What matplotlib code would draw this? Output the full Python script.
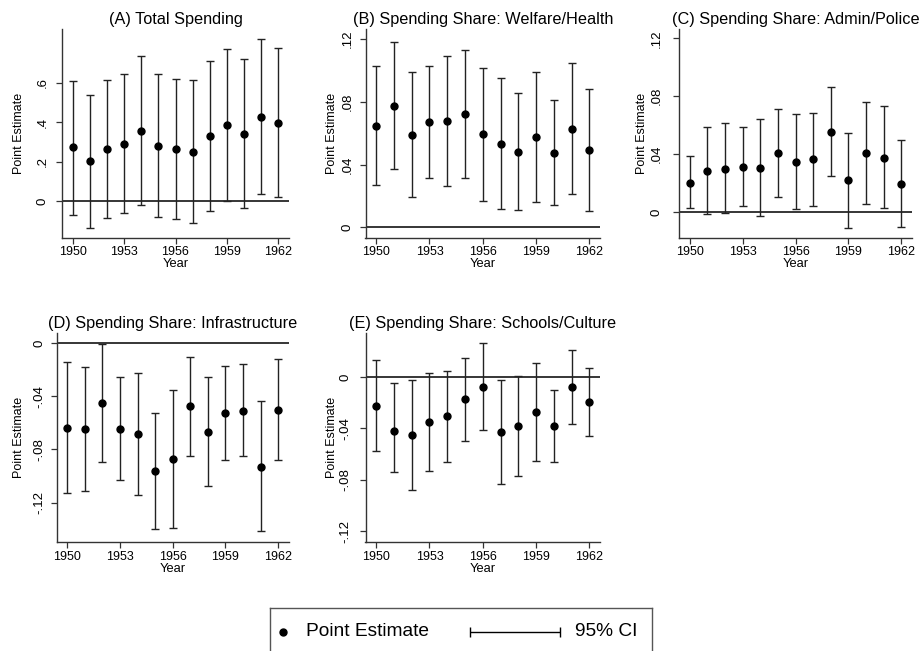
# Event-study style coefficient plots (5 panels) with 95% CI
import matplotlib.pyplot as plt

plt.rcParams['font.family'] = ['Liberation Sans', 'DejaVu Sans']

years = [1950, 1951, 1952, 1953, 1954, 1955, 1956, 1957, 1958, 1959, 1960, 1961, 1962]
xticks = [1950, 1953, 1956, 1959, 1962]

# (A) Total Spending
a_est = [0.273, 0.202, 0.265, 0.292, 0.356, 0.281, 0.266, 0.251, 0.330, 0.386, 0.340, 0.425, 0.396]
a_lo = [-0.067, -0.133, -0.084, -0.059, -0.019, -0.079, -0.089, -0.111, -0.047, 0.002, -0.035, 0.035, 0.020]
a_hi = [0.610, 0.539, 0.612, 0.642, 0.733, 0.646, 0.620, 0.614, 0.711, 0.772, 0.718, 0.821, 0.774]

# (B) Welfare/Health
b_est = [0.0648, 0.0775, 0.0590, 0.0671, 0.0678, 0.0722, 0.0595, 0.0533, 0.0482, 0.0573, 0.0476, 0.0624, 0.0491]
b_lo = [0.0268, 0.0370, 0.0191, 0.0316, 0.0266, 0.0316, 0.0166, 0.0115, 0.0110, 0.0159, 0.0144, 0.0212, 0.0102]
b_hi = [0.1028, 0.1183, 0.0992, 0.1030, 0.1092, 0.1130, 0.1017, 0.0949, 0.0856, 0.0990, 0.0814, 0.1045, 0.0879]

# (C) Admin/Police
c_est = [0.0205, 0.0284, 0.0302, 0.0314, 0.0307, 0.0411, 0.0348, 0.0365, 0.0556, 0.0222, 0.0406, 0.0378, 0.0198]
c_lo = [0.0028, -0.0014, -0.0002, 0.0042, -0.0025, 0.0106, 0.0025, 0.0046, 0.0252, -0.0106, 0.0055, 0.0028, -0.0099]
c_hi = [0.0388, 0.0586, 0.0614, 0.0591, 0.0644, 0.0715, 0.0676, 0.0688, 0.0865, 0.0547, 0.0759, 0.0732, 0.0498]

# (D) Infrastructure
d_est = [-0.0638, -0.0648, -0.0449, -0.0643, -0.0683, -0.0964, -0.0874, -0.0475, -0.0665, -0.0525, -0.0507, -0.0929, -0.0500]
d_lo = [-0.1127, -0.1112, -0.0896, -0.1032, -0.1142, -0.1401, -0.1388, -0.0851, -0.1072, -0.0881, -0.0851, -0.1416, -0.0876]
d_hi = [-0.0141, -0.0178, -0.0003, -0.0254, -0.0221, -0.0525, -0.0354, -0.0100, -0.0254, -0.0168, -0.0158, -0.0437, -0.0121]

# (E) Schools/Culture
e_est = [-0.0223, -0.0417, -0.0448, -0.0350, -0.0306, -0.0174, -0.0075, -0.0430, -0.0381, -0.0275, -0.0381, -0.0078, -0.0194]
e_lo = [-0.0578, -0.0739, -0.0881, -0.0734, -0.0664, -0.0498, -0.0410, -0.0832, -0.0767, -0.0651, -0.0658, -0.0363, -0.0456]
e_hi = [0.0135, -0.0049, -0.0021, 0.0034, 0.0049, 0.0148, 0.0262, -0.0021, 0.0008, 0.0106, -0.0104, 0.0207, 0.0067]

W, H = 921, 651
fig = plt.figure(figsize=(W / 100, H / 100), dpi=100)


def px_axes(x0, y0, x1, y1):
    # pixel box (top-left origin) -> figure fraction
    return fig.add_axes([x0 / W, 1 - y1 / H, (x1 - x0) / W, (y1 - y0) / H])


def fmt(v):
    # Stata style: .2 instead of 0.2
    s = ('%g' % v)
    return s.replace('0.', '.')


# title, data, yticks, ylim, axes box (px), ytick pad (pt), ylabel x (px)
panels = [
    ('(A) Total Spending', a_est, a_lo, a_hi, [0, 0.2, 0.4, 0.6], (-0.184, 0.870),
     (62.3, 29.3, 288.7, 237.7), 6.0, 18.3),
    ('(B) Spending Share: Welfare/Health', b_est, b_lo, b_hi, [0, 0.04, 0.08, 0.12], (-0.0066, 0.1262),
     (365.5, 29.3, 600, 237.7), 4.6, 331.7),
    ('(C) Spending Share: Admin/Police', c_est, c_lo, c_hi, [0, 0.04, 0.08, 0.12], (-0.0175, 0.1262),
     (679.3, 29.3, 911.7, 237.7), 8.0, 641.7),
    ('(D) Spending Share: Infrastructure', d_est, d_lo, d_hi, [0, -0.04, -0.08, -0.12], (-0.1499, 0.0075),
     (56.7, 333.3, 288.7, 542.3), 3.8, 18.3),
    ('(E) Spending Share: Schools/Culture', e_est, e_lo, e_hi, [0, -0.04, -0.08, -0.12], (-0.1286, 0.034),
     (365.5, 333.3, 600, 542.3), 5.9, 331.0),
]

for title, est, lo, hi, yt, ylim, box, ypad, ylab_x in panels:
    ax = px_axes(*box)
    ax.axhline(0, color='black', lw=1.1, zorder=1)
    yerr = [[e - l for e, l in zip(est, lo)], [h - e for e, h in zip(est, hi)]]
    ax.errorbar(years, est, yerr=yerr, fmt='none', ecolor='#222222', elinewidth=1.0,
                capsize=2.6, capthick=1.0, zorder=2)
    ax.plot(years, est, 'o', color='black', markersize=5, zorder=3)
    ax.set_xlim(1949.4, 1962.6)
    ax.set_ylim(*ylim)
    ax.set_xticks(xticks)
    ax.set_yticks(yt)
    ax.set_yticklabels([fmt(v) for v in yt], rotation=90, va='center')
    ax.tick_params(direction='out', length=4, width=0.9, colors='#333333', labelcolor='black')
    ax.tick_params(axis='x', labelsize=9, pad=2)
    ax.tick_params(axis='y', labelsize=9.5, pad=ypad)
    for s in ['top', 'right']:
        ax.spines[s].set_visible(False)
    for s in ['left', 'bottom']:
        ax.spines[s].set_color('#333333')
        ax.spines[s].set_linewidth(1.0)
    ax.set_title(title, fontsize=11.7, pad=4)
    ax.set_xlabel('Year', fontsize=9.3, labelpad=0)
    ax.set_ylabel('Point Estimate', fontsize=9)
    # label anchor is the right edge of the rotated text, so shift ~6 px from centre
    ax.yaxis.set_label_coords((ylab_x + 6.5 - box[0]) / (box[2] - box[0]), 0.5)

# legend box at the bottom (cut off by the figure edge like the original)
lg = px_axes(270, 608, 652, 668)
lg.set_xlim(270, 652)
lg.set_ylim(668, 608)
lg.set_xticks([])
lg.set_yticks([])
for s in lg.spines.values():
    s.set_color('#555555')
    s.set_linewidth(1.0)
lg.plot([283], [632], 'o', color='black', markersize=5)
lg.text(306, 632, 'Point Estimate', fontsize=13.8, va='center', ha='left')
lg.errorbar([515], [632], xerr=[[45], [45]], fmt='none', ecolor='black', elinewidth=1.0, capsize=3.5, capthick=1.0)
lg.text(575, 632, '95% CI', fontsize=13.8, va='center', ha='left')

fig.savefig('out.png', dpi=100)
